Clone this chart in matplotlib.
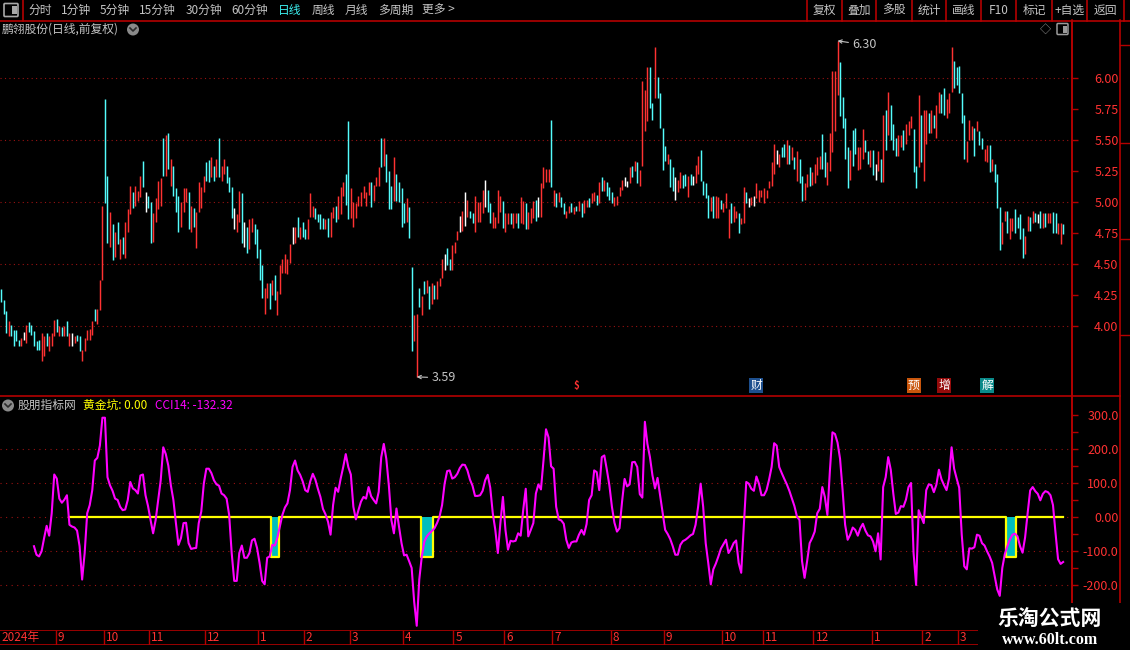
"""Daily candle chart with CCI14 / 黄金坑 indicator panel, trading-terminal style."""

import matplotlib

matplotlib.use("Agg")
import matplotlib.pyplot as plt  # noqa: E402
import matplotlib.transforms as mtransforms  # noqa: E402
import numpy as np  # noqa: E402
from matplotlib.patches import Circle, FancyBboxPatch, Rectangle  # noqa: E402

plt.rcParams["font.family"] = ["Noto Sans CJK SC", "DejaVu Sans"]

# ---------------------------------------------------------------- data
HIGHS = [
    4.30, 4.21, 4.12, 4.04, 4.01, 3.97, 3.97, 3.89, 3.90, 3.95,
    4.01, 4.03, 4.01, 3.96, 3.88, 3.89, 3.94, 3.92, 3.94, 3.92,
    3.94, 4.05, 4.06, 4.00, 3.99, 4.00, 4.04, 3.94, 3.94, 3.92,
    3.93, 3.92, 3.81, 3.90, 3.97, 3.98, 4.04, 4.14, 4.14, 4.37,
    4.97, 5.83, 5.21, 4.92, 4.82, 4.76, 4.84, 4.70, 4.72, 4.84,
    4.94, 5.13, 5.08, 5.13, 5.09, 5.21, 5.33, 5.08, 5.05, 5.00,
    4.91, 5.03, 5.17, 5.19, 5.52, 5.54, 5.56, 5.35, 5.29, 5.11,
    5.05, 5.00, 5.11, 5.11, 5.08, 4.97, 4.95, 4.92, 5.16, 5.12,
    5.21, 5.32, 5.34, 5.36, 5.29, 5.35, 5.52, 5.29, 5.35, 5.29,
    5.20, 5.12, 4.95, 4.90, 5.09, 5.07, 4.84, 4.80, 4.86, 4.87,
    4.82, 4.78, 4.62, 4.49, 4.31, 4.35, 4.35, 4.37, 4.41, 4.28,
    4.49, 4.54, 4.58, 4.54, 4.66, 4.80, 4.80, 4.88, 4.80, 4.84,
    4.78, 4.86, 5.07, 4.97, 4.95, 4.90, 4.90, 4.87, 4.86, 4.87,
    4.92, 4.96, 4.97, 5.05, 5.12, 5.16, 5.23, 5.65, 5.11, 5.00,
    4.99, 5.05, 5.08, 5.13, 5.08, 5.16, 5.16, 5.14, 5.20, 5.28,
    5.52, 5.52, 5.39, 5.25, 5.13, 5.36, 5.23, 5.16, 5.11, 4.99,
    5.03, 4.96, 4.48, 4.09, 4.10, 4.31, 4.24, 4.36, 4.37, 4.32,
    4.35, 4.33, 4.36, 4.39, 4.54, 4.58, 4.63, 4.54, 4.65, 4.68,
    4.77, 4.89, 4.93, 5.08, 5.02, 4.93, 4.91, 5.05, 5.00, 5.00,
    5.10, 5.18, 5.10, 4.99, 4.92, 4.88, 5.10, 5.05, 5.01, 4.91,
    4.91, 4.91, 4.91, 4.91, 4.91, 5.04, 5.01, 4.99, 4.92, 4.95,
    5.01, 5.02, 5.04, 5.15, 5.28, 5.27, 5.27, 5.66, 5.10, 5.07,
    5.08, 5.04, 4.99, 4.93, 4.97, 4.99, 4.96, 4.97, 5.01, 4.99,
    5.02, 5.02, 5.03, 5.07, 5.08, 5.06, 5.16, 5.20, 5.18, 5.16,
    5.12, 5.08, 5.04, 5.05, 5.12, 5.18, 5.20, 5.17, 5.28, 5.29,
    5.33, 5.32, 5.26, 5.98, 5.90, 6.09, 6.09, 5.80, 6.25, 6.01,
    5.88, 5.60, 5.45, 5.39, 5.35, 5.28, 5.20, 5.18, 5.24, 5.22,
    5.23, 5.21, 5.23, 5.21, 5.30, 5.37, 5.42, 5.17, 5.15, 5.06,
    5.04, 5.05, 5.05, 5.04, 5.02, 4.99, 5.07, 4.94, 4.99, 4.97,
    4.93, 4.91, 4.87, 5.12, 5.08, 5.03, 5.04, 5.05, 5.15, 5.10,
    5.10, 5.11, 5.10, 5.17, 5.32, 5.47, 5.42, 5.39, 5.44, 5.47,
    5.50, 5.46, 5.44, 5.36, 5.41, 5.35, 5.21, 5.15, 5.23, 5.28,
    5.24, 5.31, 5.36, 5.37, 5.55, 5.40, 5.32, 5.56, 6.06, 6.06,
    6.30, 6.13, 5.85, 5.68, 5.44, 5.42, 5.58, 5.60, 5.44, 5.44,
    5.59, 5.50, 5.41, 5.42, 5.42, 5.31, 5.41, 5.35, 5.70, 5.74,
    5.89, 5.78, 5.63, 5.52, 5.54, 5.54, 5.58, 5.63, 5.65, 5.69,
    5.59, 5.29, 5.86, 5.70, 5.74, 5.74, 5.72, 5.74, 5.70, 5.78,
    5.89, 5.87, 5.92, 5.83, 5.88, 6.25, 6.14, 6.09, 6.10, 5.88,
    5.70, 5.49, 5.66, 5.61, 5.60, 5.65, 5.57, 5.52, 5.43, 5.46,
    5.46, 5.35, 5.31, 5.23, 4.96, 4.84, 4.93, 4.93, 4.87, 4.87,
    4.94, 4.88, 4.90, 4.79, 4.73, 4.89, 4.88, 4.93, 4.91, 4.90,
    4.93, 4.91, 4.91, 4.91, 4.91, 4.92, 4.91, 4.83, 4.83, 4.82,
]
LOWS = [
    4.19, 4.10, 3.94, 3.92, 3.92, 3.84, 3.88, 3.84, 3.84, 3.89,
    3.86, 3.95, 3.93, 3.84, 3.81, 3.81, 3.72, 3.76, 3.84, 3.80,
    3.84, 3.92, 3.95, 3.92, 3.92, 3.92, 3.92, 3.84, 3.84, 3.86,
    3.88, 3.80, 3.72, 3.80, 3.89, 3.89, 3.93, 4.04, 4.02, 4.13,
    4.37, 4.99, 4.67, 4.64, 4.53, 4.56, 4.66, 4.54, 4.58, 4.55,
    4.76, 4.90, 4.95, 4.97, 5.01, 5.04, 5.12, 4.92, 4.95, 4.67,
    4.68, 4.84, 4.94, 4.97, 5.21, 5.21, 5.27, 5.13, 5.05, 4.92,
    4.76, 4.80, 4.92, 5.00, 4.78, 4.76, 4.80, 4.63, 4.92, 4.95,
    5.08, 5.17, 5.16, 5.20, 5.17, 5.20, 5.20, 5.17, 5.23, 5.15,
    5.08, 4.87, 4.78, 4.76, 4.84, 4.67, 4.64, 4.59, 4.62, 4.76,
    4.66, 4.55, 4.37, 4.23, 4.10, 4.23, 4.14, 4.25, 4.21, 4.09,
    4.26, 4.43, 4.43, 4.42, 4.51, 4.66, 4.67, 4.72, 4.70, 4.72,
    4.70, 4.70, 4.88, 4.88, 4.86, 4.84, 4.78, 4.78, 4.78, 4.72,
    4.72, 4.87, 4.84, 4.86, 4.90, 5.05, 4.98, 4.86, 4.87, 4.80,
    4.87, 4.97, 4.97, 5.03, 4.97, 5.06, 4.96, 5.01, 5.13, 5.13,
    5.28, 5.29, 5.16, 4.94, 4.94, 5.01, 5.01, 5.00, 4.80, 4.83,
    4.84, 4.71, 3.80, 3.88, 3.59, 4.15, 4.09, 4.26, 4.27, 4.14,
    4.18, 4.22, 4.22, 4.32, 4.39, 4.45, 4.49, 4.45, 4.45, 4.59,
    4.69, 4.76, 4.77, 4.81, 4.88, 4.87, 4.83, 4.76, 4.84, 4.84,
    4.91, 4.96, 4.92, 4.83, 4.79, 4.79, 4.83, 4.92, 4.79, 4.76,
    4.82, 4.82, 4.79, 4.83, 4.79, 4.83, 4.82, 4.78, 4.78, 4.83,
    4.87, 4.85, 4.88, 4.88, 5.11, 5.16, 5.16, 5.12, 4.97, 4.96,
    5.00, 4.96, 4.90, 4.87, 4.91, 4.92, 4.90, 4.93, 4.93, 4.88,
    4.91, 4.96, 4.96, 4.99, 5.01, 4.98, 4.99, 5.09, 5.09, 5.05,
    5.02, 4.99, 4.97, 4.98, 5.05, 5.10, 5.13, 5.12, 5.15, 5.20,
    5.25, 5.15, 5.13, 5.29, 5.57, 5.65, 5.76, 5.66, 5.84, 5.84,
    5.60, 5.26, 5.33, 5.31, 5.12, 5.09, 5.02, 5.08, 5.11, 5.11,
    5.13, 5.04, 5.14, 5.14, 5.15, 5.23, 5.17, 5.06, 5.03, 4.87,
    4.93, 4.87, 4.87, 4.87, 4.94, 4.92, 4.95, 4.71, 4.83, 4.84,
    4.87, 4.75, 4.82, 4.83, 4.99, 4.96, 4.98, 4.97, 5.03, 5.00,
    5.04, 4.99, 5.03, 5.11, 5.13, 5.23, 5.31, 5.28, 5.36, 5.36,
    5.31, 5.31, 5.34, 5.27, 5.17, 5.15, 5.01, 5.02, 5.12, 5.13,
    5.14, 5.15, 5.22, 5.27, 5.27, 5.20, 5.14, 5.25, 5.40, 5.57,
    5.86, 5.69, 5.60, 5.35, 5.11, 5.18, 5.29, 5.39, 5.26, 5.27,
    5.35, 5.40, 5.31, 5.28, 5.22, 5.18, 5.25, 5.16, 5.16, 5.42,
    5.54, 5.50, 5.42, 5.37, 5.37, 5.44, 5.42, 5.47, 5.54, 5.60,
    5.24, 5.11, 5.28, 5.32, 5.17, 5.47, 5.56, 5.56, 5.60, 5.52,
    5.72, 5.72, 5.70, 5.68, 5.72, 5.89, 5.92, 5.94, 5.88, 5.64,
    5.35, 5.32, 5.50, 5.50, 5.37, 5.57, 5.46, 5.43, 5.33, 5.32,
    5.24, 5.25, 5.16, 4.95, 4.61, 4.66, 4.85, 4.75, 4.70, 4.77,
    4.75, 4.79, 4.70, 4.55, 4.58, 4.77, 4.77, 4.83, 4.84, 4.83,
    4.79, 4.79, 4.80, 4.83, 4.83, 4.75, 4.75, 4.74, 4.66, 4.74,
]
# r = up day, c = down day, w = unchanged
DIRS = (
    "cccrccccrw" "rcccccrrcr" "rrcrcrcrwr" "ccrrrrrcrr" "rccrcrcrcr"
    "rrcrrrcwcc" "rrrrcrcrcc" "crrrcrcrrr" "rccrcrcrrc" "ccwrrcwcrr"
    "ccccrrcrcr" "rrrrrwrcrc" "crrrccccrc" "rrcrrrccrr" "rrrrrrcrrr"
    "crcccrcccc" "rccrrcrcrc" "rcrrrwccrr" "rwrwrccrrr" "rwccrrrrcr"
    "rcrrcrrcrr" "rcwrrrrcrc" "rccrrcrcrc" "rrcrrcrcrc" "ccrrrrwwrc"
    "rcrrrrccrc" "cccrccwrrc" "crcwrrcccc" "rcrrcrrrcr" "rcrrcwrwrr"
    "rrrrrrwrcc" "rcrcrccrrc" "rrrrccrrrr" "rccccrccrr" "rccrcwrcrc"
    "rcccrrcrrr" "ccrcrrcrcr" "rccrrrcccc" "crrrcrccrr" "crcccrrcrr"
    "ccccrrcrcw" "crcrrccrrc"
)

CCI_START = 13
CCI14 = [
    -86, -111, -116, -101, -62, -26, -55,
    11, 125, 113, 54, 42, 51, 64, -23, -28, -31,
    -40, -86, -184, -106, 11, 35, 79, 166, 174, 210,
    292, 292, 117, 93, 77, 54, 50, 30, 20, 22,
    50, 103, 84, 79, 69, 122, 125, 64, 32, -9,
    -48, -9, 50, 108, 205, 185, 151, 93, 50, -18,
    -82, -62, -18, -17, -77, -94, -92, -91, -18, 16,
    98, 142, 142, 129, 108, 96, 92, 69, 64, 54,
    6, -106, -188, -188, -106, -84, -120, -120, -106, -69,
    -64, -91, -135, -188, -198, -120, -116, -82, -84, -62,
    -28, 6, 28, 40, 79, 147, 166, 137, 124, 105,
    79, 74, 105, 127, 110, 83, 59, 24, 8, -14,
    -52, 35, 86, 74, 113, 147, 185, 147, 125, 30,
    -7, 20, 45, 59, 54, 88, 61, 50, 40, 74,
    176, 215, 171, 93, -9, -48, 25, -28, -77, -113,
    -111, -130, -150, -250, -320, -184, -116, -72, -57, -48,
    -41, -33, -18, 1, 35, 98, 135, 137, 113, 117,
    127, 144, 154, 153, 137, 110, 92, 62, 62, 64,
    77, 108, 124, 86, 11, -38, -106, -18, 59, -38,
    -96, -70, -72, -70, -48, -55, 20, 83, -57, -38,
    -18, 69, 96, 81, 166, 258, 234, 149, 142, 30,
    -7, -10, -20, -67, -91, -75, -72, -72, -52, -38,
    -52, -21, 50, 64, 137, 132, 79, 176, 181, 139,
    93, 30, -17, -43, -33, 45, 112, 90, 96, 161,
    162, 147, 67, 57, 280, 215, 176, 122, 84, 115,
    64, 11, -38, -50, -65, -86, -111, -111, -82, -71,
    -67, -61, -54, -50, -23, 30, 98, 30, -77, -135,
    -198, -154, -137, -116, -93, -80, -67, -106, -94, -77,
    -69, -135, -164, -28, 103, 98, 83, 77, 119, 98,
    64, 64, 79, 110, 147, 217, 210, 147, 129, 112,
    96, 77, 54, 32, 1, -9, -130, -179, -130, -77,
    -62, -43, 11, 24, 88, 59, 6, 137, 249, 244,
    219, 171, 79, -23, -67, -52, -31, -38, -55, -33,
    -20, -40, -54, -57, -72, -101, -48, -125, 88, 117,
    176, 139, 69, 9, 13, 32, 30, 51, 88, 100,
    -106, -200, 20, 1, -18, 79, 96, 94, 73, 95,
    139, 111, 94, 79, 113, 205, 142, 113, 86, -52,
    -145, -154, -92, -93, -89, -52, -55, -77, -84, -101,
    -116, -135, -174, -213, -232, -150, -109, -86, -66, -52,
    -49, -57, -86, -105, -60, 11, 78, 88, 76, 68,
    49, 68, 76, 73, 64, 35, -47, -124, -138, -132.32,
]

# 黄金坑 signal: 0 normally, drops to PIT_DEPTH inside the pit ranges
PIT_START = 27
PIT_RANGES = [(107, 109), (166, 170), (397, 400)]
PIT_DEPTH = -118

MONTH_STARTS = [22, 41, 59, 81, 102, 120, 138, 159, 179, 199,
                218, 241, 262, 285, 301, 321, 344, 364, 378]
MONTH_LABELS = ["9", "10", "11", "12", "1", "2", "3", "4", "5", "6",
                "7", "8", "9", "10", "11", "12", "1", "2", "3"]
FIRST_LABEL = "2024年"

EVENT_IDX = [298, 360, 372, 389]
EVENT_LABELS = ["财", "预", "增", "解"]
EVENT_COLORS = ["#1d4f8e", "#c9560c", "#950b0b", "#0b8a8a"]
DIVIDEND_IDX = 227

PERIOD_LABELS = ["分时", "1分钟", "5分钟", "15分钟", "30分钟", "60分钟",
                 "日线", "周线", "月线", "多周期", "更多 >"]
PERIOD_X = [28, 61, 100, 139, 186, 231, 278, 312, 345, 378, 422]
BUTTON_LABELS = ["复权", "叠加", "多股", "统计", "画线", "F10", "标记", "+自选", "返回"]
BUTTON_SEPS = [807, 842, 876, 912, 946, 981, 1016, 1052, 1087, 1124]

# ---------------------------------------------------------------- style
W, H = 1130, 650
RED = "#ff3232"
CYAN = "#54fcfc"
LINE_RED = "#b40000"
GRID_RED = "#9a1212"
GRAY = "#c4c4c4"
X0, X1 = -0.4, 422.5

n = min(len(HIGHS), len(LOWS), len(DIRS))
idx = np.arange(n)
highs = np.array(HIGHS[:n])
lows = np.array(LOWS[:n])

fig = plt.figure(figsize=(W / 100, H / 100), dpi=100, facecolor="black")


def px_axes(x0, y0, x1, y1):
    a = fig.add_axes([x0 / W, 1 - y1 / H, (x1 - x0) / W, (y1 - y0) / H])
    a.set_facecolor("black")
    a.set_xlim(X0, X1)
    return a


def right_axis(a, ticks, labels, minor=None):
    for s in a.spines.values():
        s.set_visible(False)
    a.spines["right"].set_visible(True)
    a.spines["right"].set_color(LINE_RED)
    a.spines["right"].set_linewidth(1.2)
    a.set_xticks([])
    a.yaxis.tick_right()
    a.set_yticks(ticks)
    a.set_yticklabels(labels)
    if minor is not None:
        a.set_yticks(minor, minor=True)
    a.tick_params(axis="y", which="both", direction="out", length=4, width=1,
                  color=LINE_RED, labelcolor=RED, labelsize=9, pad=29.5)
    for t in a.get_yticklabels():
        t.set_horizontalalignment("right")


# ---------------------------------------------------------------- price panel
ax = px_axes(0, 21, 1072, 395)
ax.set_ylim(3.444, 6.46)
price_ticks = np.arange(4.0, 6.01, 0.25)
right_axis(ax, price_ticks, [f"{v:.2f}" for v in price_ticks])
for g in np.arange(4.0, 6.01, 0.5):
    ax.axhline(g, color=GRID_RED, lw=0.8, ls=(0, (1, 3)), zorder=0)
cmap = {"r": RED, "c": CYAN, "w": "#ffffff"}
ax.vlines(idx, lows, highs, colors=[cmap[d] for d in DIRS[:n]], linewidth=1.05)

i_hi, i_lo = int(np.argmax(highs)), int(np.argmin(lows))
arrow = dict(arrowstyle="->", color=GRAY, lw=0.8, shrinkA=1, shrinkB=0, mutation_scale=6)
ax.annotate(f"{highs[i_hi]:.2f}", xy=(i_hi, highs[i_hi]), xytext=(15, -4),
            textcoords="offset pixels", color=GRAY, fontsize=9, va="center",
            arrowprops=arrow)
ax.annotate(f"{lows[i_lo]:.2f}", xy=(i_lo, lows[i_lo]), xytext=(15, -1),
            textcoords="offset pixels", color=GRAY, fontsize=9, va="center",
            arrowprops=arrow)

bl = mtransforms.blended_transform_factory(ax.transData, ax.transAxes)
for i, lab, col in zip(EVENT_IDX, EVENT_LABELS, EVENT_COLORS):
    ax.text(i, 0.008, lab, transform=bl, color="white", fontsize=8.5, ha="center",
            va="bottom", bbox=dict(boxstyle="square,pad=0.1", fc=col, ec="none"))
ax.text(DIVIDEND_IDX, 0.01, "$", transform=bl, color=RED, fontsize=7,
        ha="center", va="bottom", fontweight="bold")

# ---------------------------------------------------------------- indicator panel
ax2 = px_axes(0, 397, 1072, 630)
ax2.set_ylim(-332.4, 352.9)
cci_ticks = np.arange(-200, 301, 100)
right_axis(ax2, cci_ticks, ["0.00" if v == 0 else f"{v:.1f}" for v in cci_ticks],
           minor=np.arange(-200, 301, 50))
for g in (-200, -100, 0, 100, 200):
    ax2.axhline(g, color=GRID_RED, lw=0.8, ls=(0, (1, 4)), zorder=0)

gold = np.zeros(n - PIT_START)
pit_idx = []
for a, b in PIT_RANGES:
    gold[a - PIT_START:b - PIT_START + 1] = PIT_DEPTH
    pit_idx.extend(range(a, b + 1))
ax2.bar(pit_idx, [PIT_DEPTH] * len(pit_idx), width=1.0, color="#00bebe", zorder=2)
ax2.plot(np.arange(PIT_START, n), gold, color="#ffff00", lw=1.6, zorder=3,
         drawstyle="steps-mid")
ax2.plot(np.arange(CCI_START, CCI_START + len(CCI14)), CCI14,
         color="#ff00ff", lw=1.5, zorder=4)

# ---------------------------------------------------------------- date axis
axd = px_axes(0, 630, 1072, 645)
axd.set_ylim(0, 1)
axd.axis("off")
axd.axhline(0.97, color=LINE_RED, lw=1.2)
axd.axhline(0.03, color=LINE_RED, lw=1.2)
axd.vlines(np.array(MONTH_STARTS) - 0.5, 0, 1, color=LINE_RED, lw=1)
axd.text(0.3, 0.5, FIRST_LABEL, color=RED, fontsize=8.5, va="center")
for m, lab in zip(MONTH_STARTS, MONTH_LABELS):
    axd.text(m + 0.3, 0.5, lab, color=RED, fontsize=8.5, va="center")

# ---------------------------------------------------------------- frame, toolbar, titles
ov = fig.add_axes([0, 0, 1, 1])
ov.set_xlim(0, W)
ov.set_ylim(H, 0)
ov.axis("off")
ov.patch.set_alpha(0)

ov.plot([0, W], [20.5, 20.5], color=LINE_RED, lw=1.2)
ov.plot([0, 1120], [396, 396], color=LINE_RED, lw=1.2)
ov.plot([23, 23], [0, 20.5], color=LINE_RED, lw=1.2)
for x in BUTTON_SEPS:
    ov.plot([x, x], [0, 20.5], color=LINE_RED, lw=1.2)
ov.plot([1072, 1072], [20, 630], color=LINE_RED, lw=1.2)
ov.plot([1120, 1120], [20, 650], color=LINE_RED, lw=1.2)
for y in (45, 143, 239, 335, 630, 645):
    ov.plot([1120, 1130], [y, y], color=LINE_RED, lw=1)

ov.add_patch(FancyBboxPatch((5, 4.5), 12, 11, boxstyle="round,pad=1",
                            fc="none", ec="#a8a8a8", lw=1.2))
ov.add_patch(Rectangle((11.5, 6), 5, 8, fc="#a8a8a8", ec="none"))
for lab, x in zip(PERIOD_LABELS, PERIOD_X):
    ov.text(x, 10.5, lab, color="#3cf0f0" if lab == "日线" else GRAY,
            fontsize=8.5, va="center")
for lab, xa, xb in zip(BUTTON_LABELS, BUTTON_SEPS[:-1], BUTTON_SEPS[1:]):
    ov.text((xa + xb) / 2, 10.5, lab, color=GRAY, fontsize=8.5,
            ha="center", va="center")

ov.text(2, 29.5, "鹏翎股份(日线,前复权)", color=GRAY, fontsize=8.5, va="center")
for cx, cy in ((133, 29.5), (8, 405.5)):
    ov.add_patch(Circle((cx, cy), 6, fc="#8a8a8a", ec="none"))
    ov.plot([cx - 3, cx, cx + 3], [cy - 1.5, cy + 1.5, cy - 1.5], color="#2a2a2a", lw=1.2)
ov.text(1045, 29, "◇", color="#9a9a9a", fontsize=8, ha="center", va="center")
ov.add_patch(FancyBboxPatch((1058, 24.5), 9, 9, boxstyle="round,pad=1",
                            fc="none", ec="#9a9a9a", lw=1.1))
ov.add_patch(Rectangle((1063, 25.5), 3.5, 7, fc="#9a9a9a", ec="none"))

ov.text(18, 405.5, "股朋指标网", color=GRAY, fontsize=8.5, va="center")
ov.text(83, 405.5, f"黄金坑: {gold[-1]:.2f}", color="#ffff00", fontsize=8.5, va="center")
ov.text(155, 405.5, f"CCI14: {CCI14[-1]:.2f}", color="#ff00ff", fontsize=8.5, va="center")

# watermark block
ov.add_patch(Rectangle((978, 603), 152, 47, fc="black", ec="none", zorder=10))
ov.text(1050, 618, "乐淘公式网", color="white", fontsize=15, fontweight="bold",
        ha="center", va="center", zorder=11)
ov.text(1050, 640, "www.60lt.com", color="white", fontsize=11.5, fontweight="bold",
        family="Liberation Serif", ha="center", va="center", zorder=11)

fig.savefig("out.png", dpi=100, facecolor="black")
plt.close(fig)
